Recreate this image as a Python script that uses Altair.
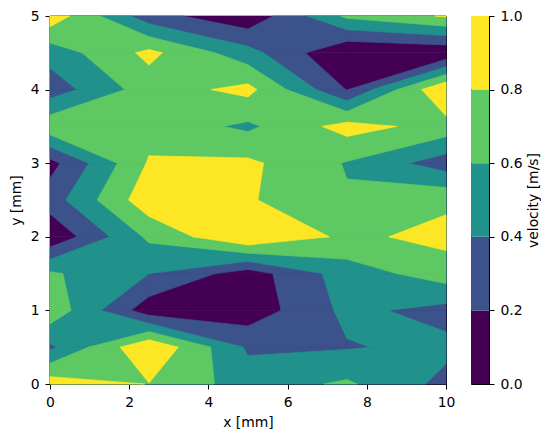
import numpy as np
import pandas as pd
import altair as alt

# grid nodes
x_nodes = [0.0, 2.5, 5.0, 7.5, 10.0]
y_nodes = [0.0, 0.5, 1.0, 1.5, 2.0, 2.5, 3.0, 3.5, 4.0, 4.5, 5.0]

# velocity values on each grid row (y = 0.0 ... 5.0), columns follow x_nodes
v_y00 = [0.91, 0.795, 0.50, 0.63, 0.34]
v_y05 = [0.36, 0.98, 0.37, 0.385, 0.45]
v_y10 = [0.74, 0.08, 0.075, 0.45, 0.33]
v_y15 = [0.63, 0.40, 0.10, 0.50, 0.70]
v_y20 = [0.035, 0.64, 1.0, 0.756, 0.86]
v_y25 = [0.30, 0.93, 0.82, 0.62, 0.76]
v_y30 = [0.13, 0.82, 0.84, 0.585, 0.29]
v_y35 = [0.74, 0.72, 0.56, 0.88, 0.72]
v_y40 = [0.29, 0.70, 0.86, 0.19, 1.0]
v_y45 = [0.48, 0.85, 0.475, 0.0, 0.03]
v_y50 = [0.93, 0.28, 0.05, 0.64, 0.82]

levels = [0.0, 0.2, 0.4, 0.6, 0.8, 1.0]
band_colors = ["#440154", "#3b528b", "#21918c", "#5ec962", "#fde725"]
x_ticks = [0, 2, 4, 6, 8, 10]
y_ticks = [0, 1, 2, 3, 4, 5]
cbar_ticks = [0.0, 0.2, 0.4, 0.6, 0.8, 1.0]

Z = np.array([v_y00, v_y05, v_y10, v_y15, v_y20, v_y25,
              v_y30, v_y35, v_y40, v_y45, v_y50])


def crossing(p, q, vp, vq, L):
    t = (L - vp) / (vq - vp)
    return (p[0] + t * (q[0] - p[0]), p[1] + t * (q[1] - p[1]))


def cell_polygons(pts, cv, L):
    inside = [v >= L for v in cv]
    if not any(inside):
        return []
    if all(inside):
        return [pts]
    saddle = inside in ([True, False, True, False], [False, True, False, True])
    if saddle and np.mean(cv) < L:
        polys = []
        for a in range(4):
            if inside[a]:
                b = (a - 1) % 4
                c = (a + 1) % 4
                polys.append([crossing(pts[b], pts[a], cv[b], cv[a], L), pts[a],
                              crossing(pts[a], pts[c], cv[a], cv[c], L)])
        return polys
    poly = []
    for a in range(4):
        b = (a + 1) % 4
        if inside[a]:
            poly.append(pts[a])
        if inside[a] != inside[b]:
            poly.append(crossing(pts[a], pts[b], cv[a], cv[b], L))
    return [poly]


records = []
pid = 0
for li, L in enumerate(levels[:-1]):
    for j in range(len(y_nodes) - 1):
        for i in range(len(x_nodes) - 1):
            pts = [(x_nodes[i], y_nodes[j]), (x_nodes[i + 1], y_nodes[j]),
                   (x_nodes[i + 1], y_nodes[j + 1]), (x_nodes[i], y_nodes[j + 1])]
            cv = [Z[j, i], Z[j, i + 1], Z[j + 1, i + 1], Z[j + 1, i]]
            for poly in cell_polygons(pts, cv, L):
                for k, (px, py) in enumerate(poly):
                    records.append({"pid": pid, "level": li, "k": k, "x": px, "y": py})
                pid += 1

df = pd.DataFrame(records)

xscale = alt.Scale(domain=[0, 10], nice=False, zero=False)
yscale = alt.Scale(domain=[0, 5], nice=False, zero=False)
xaxis = alt.Axis(values=x_ticks, title="x [mm]", format="d")
yaxis = alt.Axis(values=y_ticks, title="y [mm]", format="d")

base = alt.Chart(df)
layers = []
for li, col in enumerate(band_colors):
    layers.append(
        base.transform_filter(alt.datum.level == li)
        .mark_line(interpolate="linear-closed", fill=col, stroke=col, strokeWidth=0.7)
        .encode(x=alt.X("x:Q", scale=xscale, axis=xaxis),
                y=alt.Y("y:Q", scale=yscale, axis=yaxis),
                detail="pid:N", order="k:Q")
    )

main = alt.layer(*layers).properties(width=396, height=368)

cb_df = pd.DataFrame({"lo": levels[:-1], "hi": levels[1:], "band": list(range(5))})
cbar = alt.Chart(cb_df).mark_rect().encode(
    y=alt.Y("lo:Q", scale=alt.Scale(domain=[0, 1], nice=False, zero=False),
            axis=alt.Axis(orient="right", values=cbar_ticks, format=".1f",
                          title="velocity [m/s]", titleAngle=270, titleBaseline="top",
                          titlePadding=4)),
    y2="hi:Q",
    x=alt.value(0),
    x2=alt.value(18),
    color=alt.Color("band:O", scale=alt.Scale(domain=list(range(5)), range=band_colors), legend=None),
).properties(width=18, height=368)

chart = alt.hconcat(main, cbar, spacing=25, bounds="flush").configure_view(
    stroke="black", strokeWidth=1
).configure_axis(
    domainColor="black", domainWidth=1, tickColor="black", tickWidth=1, tickSize=5,
    labelFont="DejaVu Sans", labelFontSize=13.9, labelColor="black", labelPadding=6,
    labelFlush=False, labelOverlap=False,
    titleFont="DejaVu Sans", titleFontSize=13.9, titleFontWeight="normal", titleColor="black",
    titlePadding=7, grid=False
).properties(padding={"left": 0, "top": 0, "right": 0, "bottom": 0})

chart.save("out.html", embed_options={"renderer": "svg", "actions": False})
